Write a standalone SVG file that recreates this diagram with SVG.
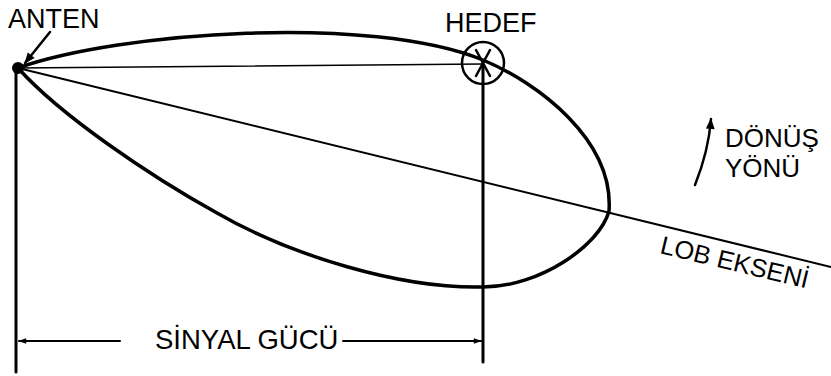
<svg xmlns="http://www.w3.org/2000/svg" width="831" height="376" viewBox="0 0 831 376">
<defs>
<style>
.ln{stroke:#000;fill:none;stroke-linecap:round;stroke-linejoin:round}
.t{font-family:"Liberation Sans",Arial,sans-serif;font-size:27px;fill:#000}
</style>
<marker id="ah" viewBox="0 0 10 10" refX="9" refY="5" markerWidth="11" markerHeight="8" markerUnits="userSpaceOnUse" orient="auto">
<path d="M0,1.5 L10,5 L0,8.5 Z" fill="#000"/>
</marker>
<marker id="ahb" viewBox="0 0 10 10" refX="9" refY="5" markerWidth="17" markerHeight="11" markerUnits="userSpaceOnUse" orient="auto">
<path d="M0,1 L10,5 L0,9 Z" fill="#000"/>
</marker>
</defs>
<g id="lobe">
<path class="ln" stroke-width="3.5" d="M18,68 C120,32 370,14 483,60 C538,83 614,140 609,211 C600,245 540,287 483,287 C400,289 290,255 217,213 C150,176 60,115 18,68 Z"/>
</g>
<g id="connectors">
<line class="ln" stroke-width="1.5" x1="18" y1="68" x2="483" y2="64"/>
<line class="ln" stroke-width="2" x1="18" y1="68" x2="831" y2="267"/>
<line class="ln" stroke-width="3" x1="16" y1="68" x2="16" y2="372"/>
<line class="ln" stroke-width="3" x1="483" y1="63" x2="483" y2="362"/>
<line class="ln" stroke-width="2" x1="120" y1="341" x2="19" y2="341" marker-end="url(#ah)"/>
<line class="ln" stroke-width="2" x1="343" y1="341" x2="481" y2="341" marker-end="url(#ah)"/>
<line class="ln" stroke-width="2.5" x1="50" y1="32" x2="25" y2="63" marker-end="url(#ahb)"/>
<path class="ln" stroke-width="2.5" d="M695,185 C703,165 709,145 711,119" marker-end="url(#ahb)"/>
</g>
<g id="anten">
<circle cx="18" cy="68" r="6" fill="#000"/>
<text class="t" x="8" y="28">ANTEN</text>
</g>
<g id="hedef">
<circle class="ln" stroke-width="2.5" cx="483" cy="63" r="21"/>
<line class="ln" stroke-width="2.5" x1="476" y1="50" x2="490" y2="76"/>
<line class="ln" stroke-width="2.5" x1="490" y1="50" x2="476" y2="76"/>
<text class="t" x="445" y="32">HEDEF</text>
</g>
<g id="donus">
<text class="t" style="font-size:26px" x="725" y="147">DÖNÜŞ</text>
<text class="t" style="font-size:26px" x="725" y="177">YÖNÜ</text>
</g>
<g id="lob-ekseni">
<text class="t" style="font-size:25.5px" transform="translate(659,253) rotate(13.5)">LOB EKSENİ</text>
</g>
<g id="sinyal">
<text class="t" style="font-size:27.5px" x="155" y="349">SİNYAL GÜCÜ</text>
</g>
</svg>
